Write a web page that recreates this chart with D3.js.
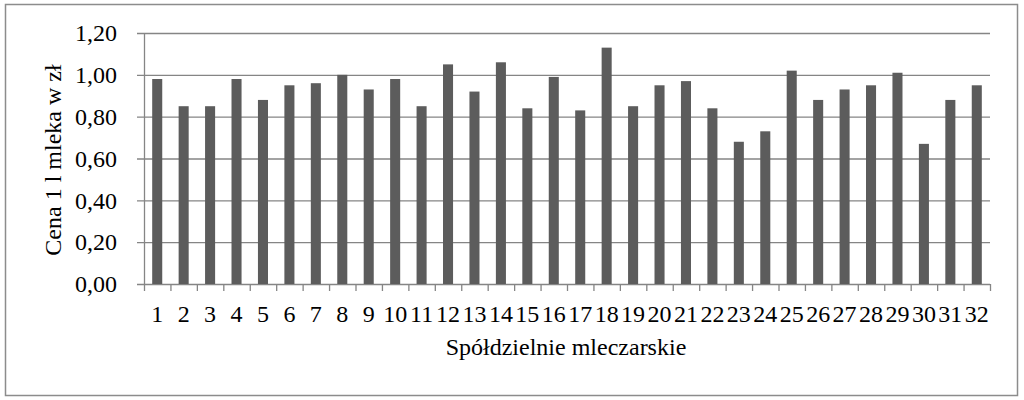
<!DOCTYPE html>
<meta charset="utf-8">
<style>
  body { margin: 0; background: #fff; }
  text { font-family: "Liberation Serif", "Times New Roman", serif; fill: #000; }
  .axis .domain { display: none; }
</style>
<svg width="1024" height="400" font-family="Liberation Serif"></svg>
<script src="https://d3js.org/d3.v7.min.js"></script>
<script>
  // Data
  var categories = d3.range(1, 33).map(String);
  var prices = [
    0.98, 0.85, 0.85, 0.98, 0.88, 0.95, 0.96, 1.00, 0.93, 0.98,
    0.85, 1.05, 0.92, 1.06, 0.84, 0.99, 0.83, 1.13, 0.85, 0.95,
    0.97, 0.84, 0.68, 0.73, 1.02, 0.88, 0.93, 0.95, 1.01, 0.67,
    0.88, 0.95
  ];
  var yTicks = [0, 0.2, 0.4, 0.6, 0.8, 1.0, 1.2];
  var yTitle = "Cena 1 l mleka w zł";
  var xTitle = "Spółdzielnie mleczarskie";

  var svg = d3.select("svg"),
    margin = { top: 33, right: 34, bottom: 116, left: 144 },
    width = +svg.attr("width") - margin.left - margin.right,
    height = +svg.attr("height") - margin.top - margin.bottom;

  var data = categories.map(function(c, i) {
    return { name: c, value: prices[i] };
  });

  // outer frame
  svg.append("rect")
    .attr("x", 5.5)
    .attr("y", 4.5)
    .attr("width", 1012)
    .attr("height", 391)
    .attr("fill", "#fff")
    .attr("stroke", "#8c8c8c")
    .attr("stroke-width", 1.5);

  var g = svg.append("g")
    .attr("transform", "translate(" + margin.left + "," + margin.top + ")");

  // one band per cooperative, bars sit in the middle of it
  var x = d3.scaleBand()
    .domain(categories)
    .range([0, width]);

  var y = d3.scaleLinear()
    .domain([0, 1.2])
    .range([height, 0]);

  var fmt = function(d) { return d.toFixed(2).replace(".", ","); };

  // gridlines
  g.append("g")
    .attr("class", "grid")
    .selectAll("line")
    .data(yTicks)
    .enter()
    .append("line")
    .attr("x1", -7)
    .attr("x2", width)
    .attr("y1", function(d) { return y(d) + 0.5; })
    .attr("y2", function(d) { return y(d) + 0.5; })
    .attr("stroke", "#858585")
    .attr("stroke-width", 1.3);

  // bars
  var barFrac = 0.38;
  g.append("g")
    .selectAll("rect")
    .data(data)
    .enter()
    .append("rect")
    .attr("x", function(d) { return x(d.name) + x.bandwidth() * (1 - barFrac) / 2; })
    .attr("y", function(d) { return y(d.value); })
    .attr("width", x.bandwidth() * barFrac)
    .attr("height", function(d) { return height - y(d.value); })
    .attr("fill", "#5c5c5c");

  // y axis line
  g.append("line")
    .attr("x1", 0.5).attr("x2", 0.5)
    .attr("y1", 0).attr("y2", height + 0.5)
    .attr("stroke", "#858585")
    .attr("stroke-width", 1.3);

  // y axis labels
  g.append("g")
    .attr("class", "axis")
    .call(d3.axisLeft(y).tickValues(yTicks).tickFormat(fmt).tickSize(7).tickPadding(20))
    .call(function(a) {
      a.attr("font-family", "Liberation Serif");
      a.selectAll("line").remove();
      a.selectAll("text").attr("font-size", 24);
    });

  // x axis: tick marks between bands
  var bounds = d3.range(categories.length + 1).map(function(i) { return i * x.step(); });
  g.append("g")
    .selectAll("line")
    .data(bounds)
    .enter()
    .append("line")
    .attr("x1", function(d) { return d + 0.5; })
    .attr("x2", function(d) { return d + 0.5; })
    .attr("y1", height)
    .attr("y2", height + 7)
    .attr("stroke", "#858585")
    .attr("stroke-width", 1.3);

  g.append("g")
    .attr("class", "axis")
    .attr("transform", "translate(0," + height + ")")
    .call(d3.axisBottom(x).tickSize(0).tickPadding(21))
    .call(function(a) {
      a.attr("font-family", "Liberation Serif");
      a.selectAll("text").attr("font-size", 24);
    });

  // axis titles
  svg.append("text")
    .attr("transform", "translate(61," + 160 + ") rotate(-90)")
    .attr("text-anchor", "middle")
    .attr("font-size", 24)
    .text(yTitle);

  svg.append("text")
    .attr("x", margin.left + width / 2 - 1)
    .attr("y", 355)
    .attr("text-anchor", "middle")
    .attr("font-size", 24)
    .text(xTitle);
</script>
